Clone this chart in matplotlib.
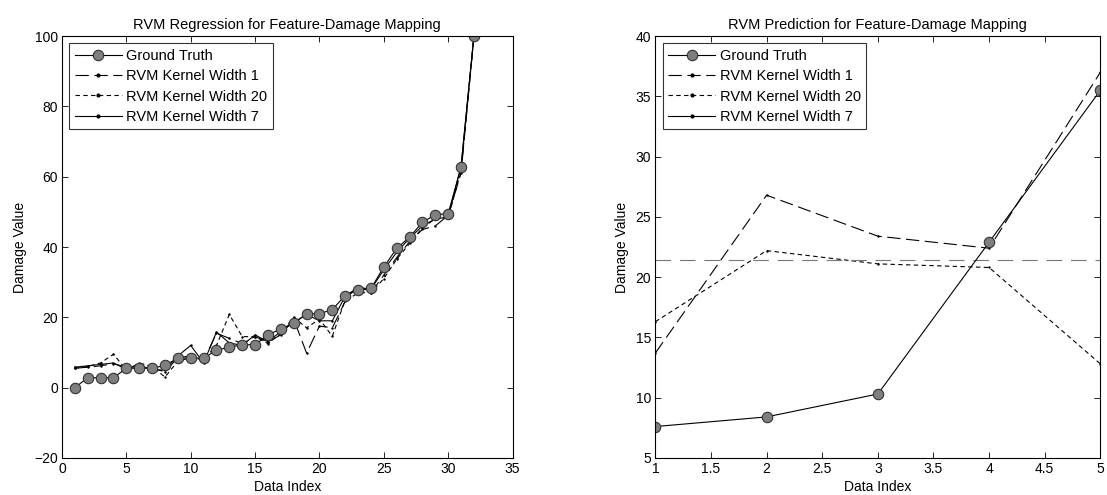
import numpy as np
import matplotlib
matplotlib.use("Agg")
import matplotlib.pyplot as plt
from matplotlib.lines import Line2D

plt.rcParams["font.family"] = ["Liberation Sans", "DejaVu Sans"]
plt.rcParams["font.size"] = 10

# regression over the full training set (32 samples)
idx_train = np.arange(1, 33)
truth_train = [0, 2.8, 2.8, 2.8, 5.5, 5.5, 5.5, 6.3, 8.4, 8.4, 8.4, 10.6, 11.5, 12.2, 12.2, 15.0,
               16.7, 18.3, 21.0, 21.0, 22.2, 26.2, 27.8, 28.2, 34.3, 39.6, 42.8, 47.0, 49.2, 49.5, 62.8, 100]
rvm_w1_train = [5.5, 5.8, 6.2, 6.8, 5.8, 6.0, 5.5, 4.5, 8.5, 9.0, 7.5, 15.5, 14.0, 12.5, 14.5, 13.0,
                15.0, 19.5, 9.8, 17.5, 17.0, 24.5, 27.0, 27.0, 32.0, 37.0, 41.5, 45.0, 46.0, 49.0, 61.0, 100]
rvm_w20_train = [5.5, 6.0, 7.0, 9.5, 5.0, 7.0, 6.0, 3.0, 7.5, 8.5, 8.0, 12.0, 20.8, 14.5, 14.5, 12.5,
                 15.5, 20.0, 17.0, 19.5, 14.6, 25.0, 29.0, 27.0, 31.0, 36.5, 41.0, 45.5, 48.0, 48.5, 61.5, 100]
rvm_w7_train = [5.8, 6.2, 6.6, 7.0, 5.2, 6.5, 5.0, 5.0, 9.0, 12.0, 7.0, 15.8, 12.7, 12.0, 15.0, 13.0,
                16.0, 18.5, 20.8, 19.0, 19.0, 26.0, 28.5, 28.0, 33.5, 38.5, 42.5, 46.0, 48.0, 48.5, 63.0, 100]

# prediction on the 5 held-out samples
idx_test = np.arange(1, 6)
truth_test = [7.6, 8.4, 10.3, 22.9, 35.5]
rvm_w1_test = [13.7, 26.8, 23.4, 22.4, 37.0]
rvm_w20_test = [16.3, 22.2, 21.1, 20.8, 12.8]
rvm_w7_test = [21.4, 21.4, 21.4, 21.4, 21.4]

labels = ["Ground Truth", "RVM Kernel Width 1", "RVM Kernel Width 20", "RVM Kernel Width 7"]

gt_style = dict(color="black", lw=0.8, marker="o", ms=7.5, mfc="#7f7f7f", mec="#333333", mew=0.8)
w1_style = dict(color="black", lw=0.8, dashes=(12, 5), marker=".", ms=1.5)
w20_style = dict(color="black", lw=0.8, dashes=(4, 3), marker=".", ms=1.5)
w7_style = dict(color="black", lw=0.8, marker=".", ms=1.5)

fig = plt.figure(figsize=(11.07, 4.95), dpi=100)
ax1 = fig.add_axes([0.056, 0.075, 0.407, 0.852])
ax2 = fig.add_axes([0.592, 0.075, 0.402, 0.852])

ax1.plot(idx_train, rvm_w1_train, **w1_style)
ax1.plot(idx_train, rvm_w20_train, **w20_style)
ax1.plot(idx_train, rvm_w7_train, **w7_style)
ax1.plot(idx_train, truth_train, **gt_style)
ax1.set_xlim(0, 35)
ax1.set_ylim(-20, 100)
ax1.set_title("RVM Regression for Feature-Damage Mapping", fontsize=10.5, pad=5)

ax2.plot(idx_test, rvm_w1_test, **w1_style)
ax2.plot(idx_test, rvm_w20_test, **w20_style)
ax2.plot(idx_test, rvm_w7_test, color="#777777", lw=0.8, dashes=(14, 8))
ax2.plot(idx_test, truth_test, **gt_style)
ax2.set_xlim(1, 5)
ax2.set_ylim(5, 40)
ax2.set_xticks(np.arange(1, 5.01, 0.5))
ax2.set_xticklabels(["1", "1.5", "2", "2.5", "3", "3.5", "4", "4.5", "5"])
ax2.set_title("RVM Prediction for Feature-Damage Mapping", fontsize=10.5, pad=5)

handles = [Line2D([], [], **gt_style), Line2D([], [], **{**w1_style, "ms": 4}),
           Line2D([], [], **{**w20_style, "ms": 4}), Line2D([], [], **{**w7_style, "ms": 4})]

for ax in (ax1, ax2):
    ax.set_xlabel("Data Index", fontsize=10, labelpad=2.5)
    ax.set_ylabel("Damage Value", fontsize=10, labelpad=5)
    ax.tick_params(direction="in", length=4, width=0.6, labelsize=10, top=True, right=True, pad=3)
    for s in ax.spines.values():
        s.set_linewidth(0.8)
    leg = ax.legend(handles, labels, loc="upper left", fontsize=10.5, frameon=True, fancybox=False,
                    edgecolor="black", handlelength=3.2, handletextpad=0.3, borderpad=0.4,
                    labelspacing=0.42, borderaxespad=0.5)
    leg.get_frame().set_linewidth(0.8)

fig.savefig("out.png", dpi=100)
